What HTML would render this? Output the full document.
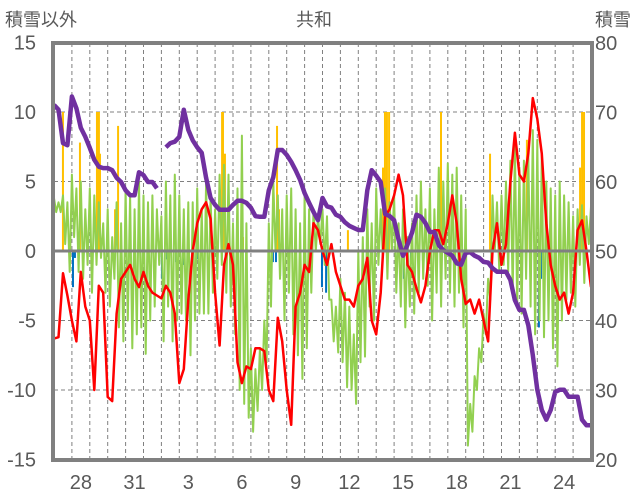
<!DOCTYPE html>
<html><head><meta charset="utf-8">
<style>
html,body{margin:0;padding:0;background:#fff;}
svg{display:block;font-family:"Liberation Sans","Noto Sans CJK JP",sans-serif;}
</style></head>
<body>
<svg id="chart" width="636" height="501" viewBox="0 0 636 501">
<text x="5" y="26" font-size="18" fill="#595959">積雪以外</text>
<text x="314" y="26" font-size="18" fill="#595959" text-anchor="middle">共和</text>
<text x="631" y="26" font-size="18" fill="#595959" text-anchor="end">積雪</text>
<g id="grid"></g>
<g id="bars"></g>
<g id="lines"></g>
<g id="axes"></g>
</svg>
<script>
const dayLabels = ["28","31","3","6","9","12","15","18","21","24"];
const dayLabelIdx = [1,4,7,10,13,16,19,22,25,28];
const leftTicks = [15,10,5,0,-5,-10,-15];
const rightTicks = [80,70,60,50,40,30,20];

const redVals = [-6.3,-6.2,-1.6,-3.2,-5,-6.5,-1.5,-4,-5,-10,-2.5,-3,-10.5,-10.8,-4.5,-2,-1.5,-1,-2,-2.6,-1.5,-2.5,-3,-3.2,-3.4,-2.5,-3,-4.5,-9.5,-8.5,-3.5,0,2,3,3.5,2.3,-3,-6.8,-1,0.5,-1,-8,-9.5,-8.3,-8.5,-7,-7,-7.2,-10,-10.8,-4.8,-6.5,-10,-12.5,-4,-3,-1,-1.5,2,1.5,0,-1,0.5,-1.5,-2.5,-3.5,-3.5,-4,-2.5,-2,-0.5,-5,-6,-3,2.5,3,4,5.5,4,-1,-1.5,-2.7,-3.7,-2.5,0,1.5,1.5,0.5,2,4,2,-2,-3.8,-3.5,-4.5,-3.5,-5,-6.5,0,2,-1,0.5,5,8.5,5.5,5,7,11,9.5,7,2,-1,-2.5,-3.5,-3,-4.5,-3,1.5,2.2,0,-2.6];

const greenHi = [3.8,3.5,4,3.5,5.5,4.5,5,3,4.5,4,3.5,2,3,1,3.5,2,4.5,4,3,5,4,3.5,4,3,2.5,5,4,5.5,4,3,3.5,3.5,4.5,3,5,4,3,5.5,6.2,5.5,2,4.5,8.3,2,-7,-8.5,-7,-5,2,5,4,3,4,4.5,3,2,4,3,3,2.5,3,2.5,-3.5,-4,-2,-3,-4,-6,0,1,3,2,4.5,3,4.5,3.5,4,2,3,1,2,4,5,3,4.5,3,6,5,6.3,5.5,6,4,3,-11,-9,-7,-4.5,-2,4,3.5,4,5,6.5,7.5,6,6.5,7,8.7,8,7,5,4.5,4,5,4,3.5,2.5,3,3.3,2.5,3.2];
const greenLo = [2.8,2.8,0.5,-1.5,1,-1.5,-2,-1,-3,-1,-0.5,-3,-4,-2,-5.5,-6.5,-5,-7,-6,-5.5,-7.4,-5,-4,-1,-6.5,-4,-6.5,-5,-4.5,-5,-7.5,-5,-4.5,-4.5,-4.5,-3,-2,-1,-3,-4,-6,-10,-11,-12,-13,-11.5,-10,-8,-4,0,-2,-5,-3,-6,-7.5,-9.2,-7,-3,0,0.5,-1,-3.5,-6.5,-7.3,-8,-9.8,-10,-11,-8,-7.6,-4,-5,-1,-0.5,-2,0,-3,-4,-5.5,-4,-4.5,-3,-2,-2.5,-5,-3,-4,-2,-3,-4,-3,-5.5,-14,-13,-10,-8,-6,-3.5,0,-1.5,-1,-1.5,-3,-4,-4.5,-2,-4,-6,-5,-6.2,-5,-7,-8.3,-5,-3.5,-3,-4,-1,-2.3,0.5];

const snowVals = [71.1,70.4,65.6,65.3,72.3,70.6,67.8,66.5,64.9,63.2,62.2,62.0,62.0,61.7,60.6,60.0,58.8,58.1,58.1,61.4,61.0,60.0,60.0,59.1,null,65.0,65.6,65.8,66.5,70.4,67.5,66.0,65.0,64.2,60.6,57.7,56.7,56.0,56.0,56.0,56.7,57.3,57.3,57.0,56.3,55.1,55.0,55.0,58.8,60.7,64.6,64.6,63.9,62.9,61.7,60.3,58.4,57.0,55.7,54.5,57.7,56.5,56.3,55.3,55.0,54.2,53.7,53.4,53.1,53.1,58.8,61.7,60.9,60.0,55.4,55.1,54.5,51.7,49.4,51.0,52.7,55.3,55.0,54.1,52.8,52.8,50.9,50.2,49.8,49.4,48.3,48.1,49.8,49.9,49.4,49.1,48.5,48.4,47.6,47.1,47.1,47.1,45.9,43.0,41.6,41.6,39.4,35.1,30.1,27.2,25.8,27.2,29.8,30.1,30.1,29.1,29.1,29.1,25.8,25.0,25.0];

const orangeDays = [0.50,1.45,2.40,2.46,2.51,2.57,3.41,3.58,9.39,9.44,9.55,10.56,12.46,12.57,16.42,18.38,18.49,18.60,18.72,21.62,24.36,26.42,29.39,29.50,29.61];
const orangeVals = [10,7.8,10,10,10,7,3,9,10,10,7,1,9,3,1.5,6,10,10,10,10,7,8,6,10,10];
const blueDays = [1.06,1.17,6.03,6.31,6.82,7.21,7.99,12.23,12.40,12.63,14.97,15.20,19.55,19.94,20.61,21.06,27.09,27.21];
const blueVals = [-2.6,-0.5,-2,-0.6,-0.8,-1,-0.6,-0.8,-0.8,-1.8,-2.6,-3,-2,-0.8,-0.7,-0.7,-5.5,-2];

const NS = "http://www.w3.org/2000/svg";
const X0 = 54, DX = 17.9, NDAYS = 30;
function xDay(d){ return X0 + DX*d; }
function yL(v){ return 251 - 13.9*v; }
function yR(v){ return 43 + (80 - v)*6.95; }
function mk(tag, attrs, parent){
  const e = document.createElementNS(NS, tag);
  for (const k in attrs) e.setAttribute(k, attrs[k]);
  parent.appendChild(e);
  return e;
}
const grid = document.getElementById('grid');
const bars = document.getElementById('bars');
const lines = document.getElementById('lines');
const axes = document.getElementById('axes');

leftTicks.forEach(function(t){
  if (t === 15 || t === -15 || t === 0) return;
  const g = mk('line', {x1:X0, x2:xDay(NDAYS), y1:yL(t), y2:yL(t), stroke:'#808080', 'stroke-width':1, 'stroke-dasharray':'4,3'}, grid);
  
  
});
for (let d = 1; d < NDAYS; d++){
  const g = mk('line', {x1:xDay(d), x2:xDay(d), y1:43, y2:460, stroke:'#808080', 'stroke-width':1, 'stroke-dasharray':'4,3'}, grid);
  
  
}

orangeDays.forEach(function(d, i){
  const v = orangeVals[i];
  const r = mk('rect', {x:xDay(d)-1, y:yL(v), width:2, height:yL(0)-yL(v), fill:'#FFC000'}, bars);
  
  
});
blueDays.forEach(function(d, i){
  const v = blueVals[i];
  const r = mk('rect', {x:xDay(d)-1, y:yL(0), width:2, height:yL(v)-yL(0), fill:'#0070C0'}, bars);
  
  
});

const zl = mk('line', {x1:X0, x2:xDay(NDAYS), y1:yL(0), y2:yL(0), stroke:'#808080', 'stroke-width':3}, axes);



let gp = [];
greenHi.forEach(function(h, k){
  gp.push(xDay(k/4).toFixed(1) + ',' + yL(h).toFixed(1));
  if (k < greenLo.length) gp.push(xDay(k/4 + 0.125).toFixed(1) + ',' + yL(greenLo[k]).toFixed(1));
});
const gl = mk('polyline', {points:gp.join(' '), fill:'none', stroke:'#92D050', 'stroke-width':2, 'stroke-linejoin':'round'}, lines);



const rp = redVals.map(function(v, k){ return xDay(k/4).toFixed(1) + ',' + yL(v).toFixed(1); });
const rl = mk('polyline', {points:rp.join(' '), fill:'none', stroke:'#FF0000', 'stroke-width':2.5, 'stroke-linejoin':'round'}, lines);



let sd = '', pen = false;
snowVals.forEach(function(v, k){
  if (v === null){ pen = false; return; }
  sd += (pen ? 'L' : 'M') + xDay(k/4).toFixed(1) + ',' + yR(v).toFixed(1) + ' ';
  pen = true;
});
const sl = mk('path', {d:sd, fill:'none', stroke:'#7030A0', 'stroke-width':4.5, 'stroke-linejoin':'round'}, lines);



const fr = mk('rect', {x:X0-1, y:43, width:xDay(NDAYS)-X0+2, height:417, fill:'none', stroke:'#808080', 'stroke-width':4}, axes);



leftTicks.forEach(function(t){
  const tx = mk('text', {x:36, y:yL(t)+7, 'font-size':20, fill:'#595959', 'text-anchor':'end'}, axes);
  tx.textContent = String(t);
  
  
});
rightTicks.forEach(function(t){
  const tx = mk('text', {x:595, y:yR(t)+7, 'font-size':20, fill:'#595959'}, axes);
  tx.textContent = String(t);
  
  
});
dayLabels.forEach(function(lab, i){
  const tx = mk('text', {x:xDay(dayLabelIdx[i]+0.5), y:489, 'font-size':20, fill:'#595959', 'text-anchor':'middle'}, axes);
  tx.textContent = lab;
  
  
});
</script>
</body></html>
